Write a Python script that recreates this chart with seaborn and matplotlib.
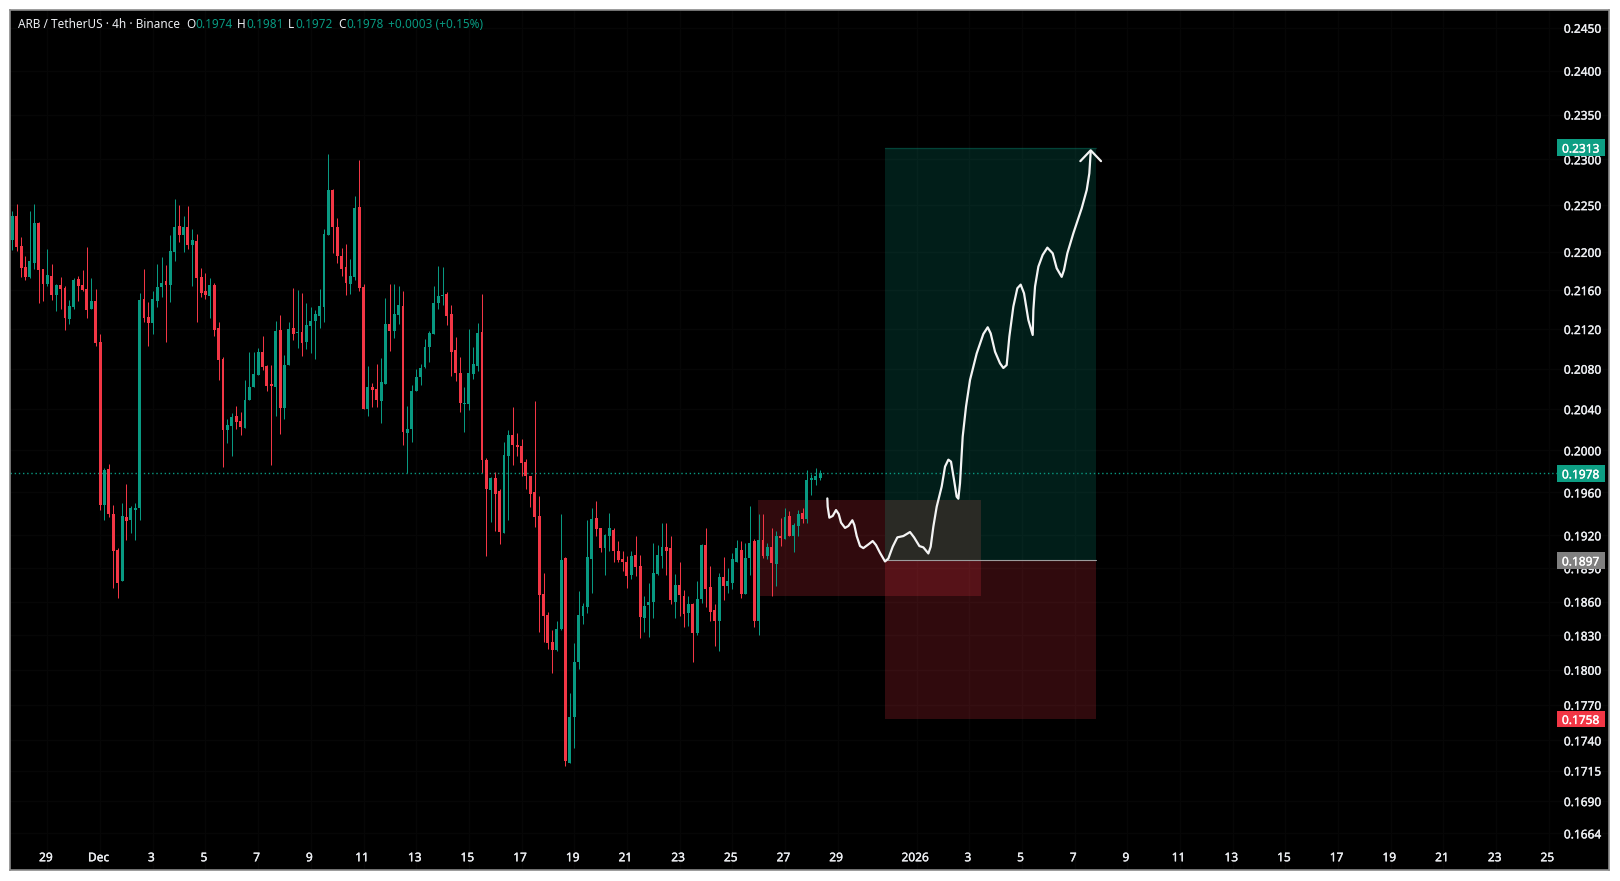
import numpy as np
import pandas as pd
import matplotlib
matplotlib.use("Agg")
import matplotlib.pyplot as plt
import matplotlib.patheffects as pe
from matplotlib.ticker import NullLocator, NullFormatter
from matplotlib.transforms import blended_transform_factory, ScaledTranslation
import seaborn as sns

opens = [.2213,.2238,.2206,.2184,.2174,.2188,.2231,.2182,.2166,.2175,
.2155,.2165,.2162,.2130,.2143,.2172,.2165,.2161,.2140,.2149,
.2107,.1948,.1982,.1940,.1907,.1878,.1937,.1934,.1944,.1945,
.2151,.2132,.2126,.2149,.2163,.2169,.2165,.2200,.2228,.2218,
.2226,.2207,.2212,.2174,.2159,.2154,.2165,.2121,.2090,.2020,
.2024,.2033,.2028,.2022,.2049,.2062,.2074,.2097,.2083,.2065,
.2062,.2119,.2041,.2084,.2121,.2116,.2117,.2107,.2123,.2128,
.2133,.2143,.2218,.2266,.2227,.2196,.2184,.2166,.2174,.2248,
.2163,.2040,.2062,.2060,.2048,.2065,.2125,.2118,.2134,.2144,
.2017,.2021,.2058,.2072,.2082,.2102,.2115,.2147,.2154,.2156,
.2135,.2099,.2076,.2045,.2045,.2075,.2083,.2117,.1991,.1962,
.1974,.1961,.1922,.1995,.2015,.2005,.2004,.1989,.1976,.1960,
.1938,.1867,.1848,.1824,.1817,.1836,.1899,.1721,.1760,.1807,
.1847,.1855,.1898,.1936,.1927,.1908,.1919,.1925,.1906,.1898,
.1896,.1884,.1902,.1892,.1845,.1857,.1860,.1885,.1901,.1909,
.1908,.1860,.1875,.1865,.1850,.1858,.1832,.1862,.1911,.1873,
.1852,.1843,.1882,.1874,.1877,.1896,.1907,.1867,.1899,.1915,
.1843,.1916,.1901,.1909,.1894,.1919,.1917,.1938,.1919,.1929,
.1941,.1935,.1972,.1972,.1974]
highs = [.2244,.2251,.2216,.2196,.2244,.2251,.2232,.2182,.2203,.2187,
.2166,.2174,.2164,.2150,.2173,.2175,.2181,.2205,.2173,.2161,
.2115,.1983,.1987,.1948,.1908,.1950,.1968,.1947,.1950,.2157,
.2182,.2148,.2159,.2187,.2195,.2186,.2218,.2257,.2250,.2238,
.2249,.2224,.2219,.2183,.2178,.2173,.2167,.2127,.2092,.2030,
.2036,.2043,.2037,.2069,.2097,.2097,.2101,.2113,.2084,.2084,
.2128,.2134,.2094,.2127,.2162,.2160,.2157,.2147,.2143,.2139,
.2161,.2224,.2306,.2267,.2236,.2204,.2208,.2193,.2260,.2299,
.2166,.2083,.2066,.2085,.2091,.2152,.2166,.2166,.2164,.2159,
.2043,.2064,.2080,.2085,.2110,.2118,.2164,.2185,.2184,.2158,
.2145,.2112,.2092,.2062,.2120,.2102,.2126,.2156,.1993,.1975,
.1979,.1963,.2008,.2020,.2042,.2017,.2011,.1992,.1976,.2048,
.1957,.1886,.1851,.1835,.1843,.1940,.1900,.1780,.1823,.1869,
.1859,.1934,.1945,.1952,.1927,.1921,.1941,.1927,.1915,.1906,
.1901,.1906,.1919,.1902,.1865,.1877,.1913,.1911,.1931,.1931,
.1919,.1885,.1896,.1870,.1865,.1859,.1878,.1912,.1927,.1892,
.1858,.1886,.1900,.1890,.1904,.1916,.1915,.1913,.1947,.1917,
.1940,.1940,.1913,.1927,.1924,.1936,.1945,.1943,.1931,.1944,
.1945,.1981,.1977,.1983,.1981]
lows = [.2202,.2201,.2174,.2171,.2173,.2182,.2147,.2149,.2164,.2150,
.2138,.2141,.2119,.2125,.2140,.2149,.2159,.2131,.2140,.2103,
.1944,.1934,.1937,.1872,.1863,.1878,.1916,.1922,.1916,.1934,
.2127,.2103,.2115,.2143,.2153,.2107,.2148,.2190,.2210,.2200,
.2203,.2164,.2127,.2153,.2151,.2131,.2113,.2069,.1984,.2007,
.1995,.2021,.2015,.2022,.2049,.2062,.2074,.2079,.2058,.1986,
.2033,.2016,.2030,.2084,.2109,.2101,.2093,.2100,.2096,.2090,
.2121,.2127,.2218,.2199,.2188,.2175,.2155,.2156,.2170,.2159,
.2040,.2033,.2042,.2042,.2026,.2065,.2098,.2111,.2125,.2005,
.1978,.2008,.2058,.2064,.2081,.2087,.2115,.2140,.2145,.2124,
.2073,.2068,.2037,.2018,.2039,.2070,.2078,.1978,.1901,.1932,
.1924,.1912,.1922,.1934,.1986,.1995,.1976,.1963,.1946,.1928,
.1833,.1824,.1818,.1797,.1816,.1835,.1719,.1721,.1734,.1801,
.1840,.1850,.1868,.1919,.1905,.1884,.1906,.1896,.1896,.1887,
.1872,.1880,.1883,.1828,.1833,.1829,.1845,.1884,.1890,.1884,
.1858,.1845,.1847,.1837,.1838,.1807,.1830,.1859,.1855,.1843,
.1821,.1816,.1861,.1868,.1871,.1896,.1863,.1867,.1884,.1837,
.1830,.1899,.1898,.1865,.1874,.1910,.1917,.1919,.1905,.1919,
.1931,.1931,.1958,.1967,.1972]
closes = [.2238,.2205,.2183,.2174,.2190,.2231,.2181,.2166,.2176,.2155,
.2165,.2161,.2131,.2144,.2171,.2164,.2160,.2139,.2149,.2106,
.1948,.1981,.1940,.1906,.1877,.1938,.1933,.1945,.1945,.2150,
.2131,.2126,.2151,.2163,.2167,.2165,.2201,.2227,.2218,.2226,
.2207,.2213,.2173,.2157,.2155,.2165,.2119,.2089,.2020,.2025,
.2032,.2027,.2023,.2049,.2062,.2075,.2097,.2082,.2063,.2063,
.2118,.2041,.2084,.2120,.2115,.2117,.2106,.2124,.2128,.2135,
.2144,.2219,.2266,.2226,.2196,.2182,.2167,.2175,.2247,.2162,
.2040,.2062,.2059,.2049,.2067,.2125,.2118,.2135,.2145,.2018,
.2021,.2058,.2072,.2081,.2102,.2116,.2147,.2154,.2155,.2133,
.2097,.2076,.2046,.2046,.2076,.2085,.2116,.1991,.1963,.1974,
.1959,.1923,.1996,.2015,.2005,.2003,.1988,.1976,.1959,.1937,
.1866,.1847,.1823,.1817,.1836,.1897,.1723,.1760,.1807,.1848,
.1856,.1900,.1935,.1926,.1908,.1920,.1927,.1906,.1897,.1896,
.1883,.1901,.1891,.1846,.1856,.1860,.1886,.1902,.1909,.1906,
.1861,.1875,.1866,.1849,.1858,.1832,.1862,.1911,.1871,.1851,
.1843,.1882,.1874,.1878,.1898,.1908,.1867,.1899,.1913,.1843,
.1916,.1901,.1909,.1895,.1919,.1918,.1937,.1919,.1930,.1940,
.1935,.1972,.1974,.1976,.1978]

# hand-drawn projection, in bar numbers and prices
path_bars = [185.65,185.73,186.11,186.87,187.63,188.24,188.77,189.68,190.44,191.35,191.80,192.34,
193.10,193.85,195.00,195.98,196.74,197.65,198.79,199.55,200.54,201.60,202.97,204.48,205.40,206.61,
207.52,208.66,209.19,209.80,210.56,211.70,212.46,213.22,213.82,214.51,215.11,215.49,215.87,216.48,
217.24,218.15,219.67,221.19,222.18,222.86,223.85,224.98,225.74,226.50,227.11,228.02,228.93,229.69,
230.45,231.44,232.43,232.58,232.96,233.72,234.70,235.77,236.98,237.89,239.03,239.56,240.32,241.69,
243.59,244.73,245.33,245.64]
path_prices = [.19544,.19466,.19364,.19380,.19435,.19398,.19318,.19269,.19287,.19340,.19296,.19194,
.19102,.19083,.19117,.19148,.19111,.19040,.18961,.18988,.19096,.19182,.19194,.19231,.19182,.19102,
.19090,.19034,.19096,.19281,.19466,.19656,.19845,.19911,.19892,.19718,.19560,.19541,.19686,.20132,
.20425,.20688,.20953,.21150,.21218,.21156,.20970,.20854,.20807,.20837,.21123,.21430,.21619,.21657,
.21567,.21293,.21140,.21396,.21637,.21845,.21968,.22045,.21985,.21828,.21738,.21810,.21985,.22198,
.22466,.22663,.22846,.23086]
head_bars = [243.28,245.64,247.99]
head_prices = [.2298,.2310,.2298]

tick_bars = [8,20,32,44,56,68,80,92,104,116,128,140,152,164,176,188,206,218,230,242,254,266,278,290,302,314,326,338,350]
tick_labels = ["29","Dec","3","5","7","9","11","13","15","17","19","21","23","25","27","29","2026",
               "3","5","7","9","11","13","15","17","19","21","23","25"]
price_ticks = [.2450,.2400,.2350,.2300,.2250,.2200,.2160,.2120,.2080,.2040,.2000,.1960,.1920,.1890,
               .1860,.1830,.1800,.1770,.1740,.1715,.1690,.1664]

last_price = .1978
entry_price = .1897
target_price = .2313
stop_price = .1758
zone_top, zone_bottom = .1953, .1865

UP, DOWN = "#089981", "#f23645"
TXT = "#eceef2"
FONT = "Noto Sans"
bold_look = [pe.withStroke(linewidth=0.25, foreground=TXT)]

sns.set_theme(style="dark")
plt.rcParams["font.family"] = [FONT, "DejaVu Sans"]

W, H = 1620, 881
fig = plt.figure(figsize=(W/100, H/100), dpi=100, facecolor="white")
L, T, R, B = 10, 10, 1609, 870
ax = fig.add_axes([L/W, 1-B/H, (R-L)/W, (B-T)/H], facecolor="black")
ax.set_yscale("log")

df = pd.DataFrame({"bar": np.arange(len(opens)), "open": opens, "high": highs, "low": lows, "close": closes})
df["color"] = np.where(df["close"] >= df["open"], UP, DOWN)
df["bottom"] = df[["open", "close"]].min(axis=1)
df["height"] = (df["close"] - df["open"]).abs().clip(lower=0.00008)

# position and zone
ax.fill_between([198.7, 246.9], entry_price, target_price, color=UP, alpha=.2, lw=0, zorder=1)
ax.fill_between([198.7, 246.9], stop_price, entry_price, color=DOWN, alpha=.2, lw=0, zorder=1)
ax.fill_between([169.9, 220.7], zone_bottom, zone_top, color=DOWN, alpha=.2, lw=0, zorder=1.1)
ax.fill_between([198.7, 220.7], entry_price, zone_top, color="#2a2a25", lw=0, zorder=1.2)
ax.plot([198.7, 246.9], [target_price, target_price], color=UP, alpha=.3, lw=1, zorder=1.3)
ax.plot([198.7, 246.9], [entry_price, entry_price], color="#9c9c9c", lw=.8, zorder=1.3)

ax.vlines(df["bar"], df["low"], df["high"], colors=df["color"], lw=.72, zorder=2)
ax.bar(df["bar"], df["height"], bottom=df["bottom"], width=.66, color=df["color"], lw=0, zorder=3)

sns.lineplot(x=[-.52, 351.9], y=[last_price, last_price], ax=ax, color=UP, lw=1, ls=(0, (1, 2)), zorder=2.5, legend=False)
sns.lineplot(data=pd.DataFrame({"b": path_bars, "p": path_prices}), x="b", y="p", ax=ax, estimator=None, sort=False,
             color="#f4f4f4", lw=1.6, zorder=4, legend=False)
sns.lineplot(data=pd.DataFrame({"b": head_bars, "p": head_prices}), x="b", y="p", ax=ax, estimator=None, sort=False,
             color="#f4f4f4", lw=1.6, zorder=4, legend=False)
for ln in ax.get_lines()[-2:]:
    ln.set_solid_joinstyle("round")
    ln.set_solid_capstyle("round")

ax.set_xlim(-.524, 363.7)
ax.set_ylim(.1635, .2471)
ax.set_xlabel("")
ax.set_ylabel("")

ax.set_xticks(tick_bars)
ax.set_xticklabels(tick_labels)
ax.set_yticks(price_ticks)
ax.set_yticklabels([f"{p:.4f}" for p in price_ticks])
ax.yaxis.set_minor_locator(NullLocator())
ax.yaxis.set_minor_formatter(NullFormatter())
ax.yaxis.tick_right()
ax.tick_params(axis="y", which="major", length=0, pad=-32.5, labelsize=8.6, labelcolor=TXT)
ax.tick_params(axis="x", which="major", length=0, pad=-13.5, labelsize=8.6, labelcolor=TXT)
left_shift = ScaledTranslation(-1.5/100, 0, fig.dpi_scale_trans)
for lab in ax.get_yticklabels():
    lab.set_ha("left")
    lab.set_va("center_baseline")
    lab.set_path_effects(bold_look)
for lab in ax.get_xticklabels():
    lab.set_fontweight("bold" if lab.get_text() == "2026" else "normal")
    lab.set_path_effects(bold_look)
    lab.set_transform(lab.get_transform() + left_shift)
ax.grid(True, color="#060606", lw=1, zorder=0)
ax.set_axisbelow(True)
for s in ax.spines.values():
    s.set_color("#8a8a8a")
    s.set_linewidth(1.2)

# price tags
tr = blended_transform_factory(ax.transAxes, ax.transData)
xa = (1557-L)/(R-L)
xb = (1604.5-L)/(R-L)
half = np.exp(8.3/2081)
for price, col in [(target_price, "#0d9f84"), (last_price, "#0d9f84"), (entry_price, "#808080"), (stop_price, DOWN)]:
    ax.fill_between([xa, xb], price/half, price*half, color=col, lw=0, transform=tr, zorder=6)
    ax.text((xa+xb)/2, price, f"{price:.4f}", transform=tr, color="white", fontsize=8.6,
            ha="center", va="center_baseline", zorder=7, path_effects=[pe.withStroke(linewidth=0.25, foreground="white")])

# legend header
def hdr(x, s, c):
    fig.text(x/W, 1-25/H, s, color=c, fontsize=8.5, ha="left", va="center", family=FONT)
hdr(18, "ARB / TetherUS · 4h · Binance", TXT)
for x, s, c in [(186, "O", TXT), (195, "0.1974", UP), (237, "H", TXT), (246, "0.1981", UP), (288, "L", TXT),
                (295, "0.1972", UP), (338, "C", TXT), (346, "0.1978", UP), (388, "+0.0003 (+0.15%)", UP)]:
    hdr(x, s, c)

fig.savefig("out.png", dpi=100, facecolor="white")
